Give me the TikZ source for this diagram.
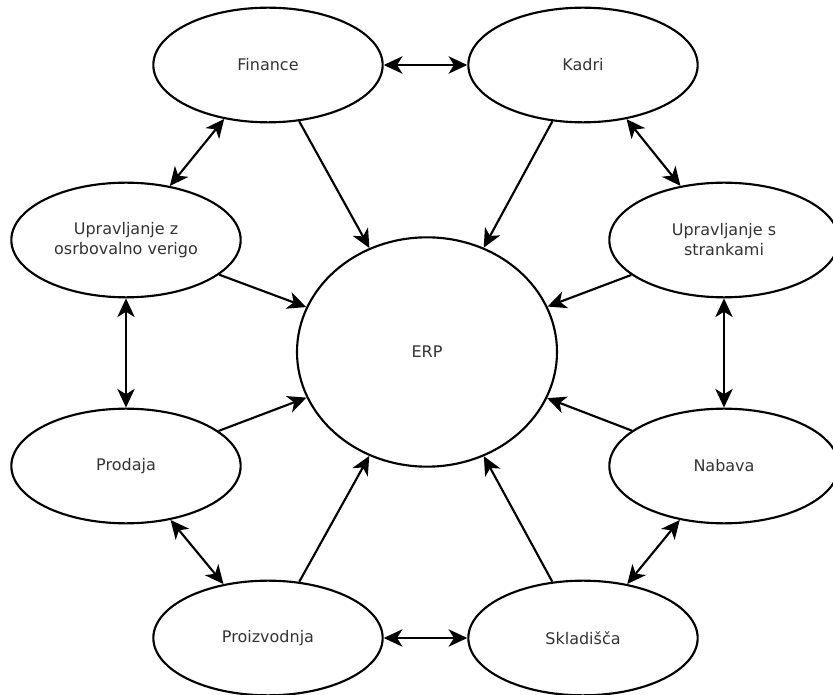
\documentclass[tikz,border=0pt]{standalone}
\usepackage{fontspec}
\setmainfont{DejaVu Sans}
\usetikzlibrary{shapes.geometric,arrows.meta}
\begin{document}
\begin{tikzpicture}[x=0.75pt,y=-0.75pt,
  konica/.tip={Stealth[length=14pt,width=13pt,inset=4pt]},
  modul/.style={draw,ellipse,line width=1.6pt,inner sep=0pt,
    minimum width=172pt,minimum height=86pt,align=center,
    font=\fontsize{12}{15}\selectfont,text=black!80},
  vez/.style={line width=1.6pt,-konica},
  obe/.style={line width=1.6pt,konica-konica}]
  \useasboundingbox (0,0) rectangle (833,695);

  % sredina
  \node[modul,minimum width=195pt,minimum height=172pt] (erp) at (427,352) {ERP};

  % moduli okrog
  \node[modul] (fin) at (268,65) {Finance};
  \node[modul] (kad) at (583,65) {Kadri};
  \node[modul] (upz) at (126,240) {Upravljanje z\\osrbovalno verigo};
  \node[modul] (ups) at (724,240) {Upravljanje s\\strankami};
  \node[modul] (pro) at (126,466) {Prodaja};
  \node[modul] (nab) at (724,466) {Nabava};
  \node[modul] (prz) at (268,638) {Proizvodnja};
  \node[modul] (skl) at (583,638) {Skladišča};

  % povezave v ERP
  \foreach \m in {fin,kad,upz,ups,pro,nab,prz,skl}
    \draw[vez] (\m) -- (erp);

  % povezave med sosedi
  \draw[obe] (fin) -- (kad);
  \draw[obe] (kad) -- (ups);
  \draw[obe] (ups) -- (nab);
  \draw[obe] (nab) -- (skl);
  \draw[obe] (skl) -- (prz);
  \draw[obe] (prz) -- (pro);
  \draw[obe] (pro) -- (upz);
  \draw[obe] (upz) -- (fin);
\end{tikzpicture}
\end{document}
